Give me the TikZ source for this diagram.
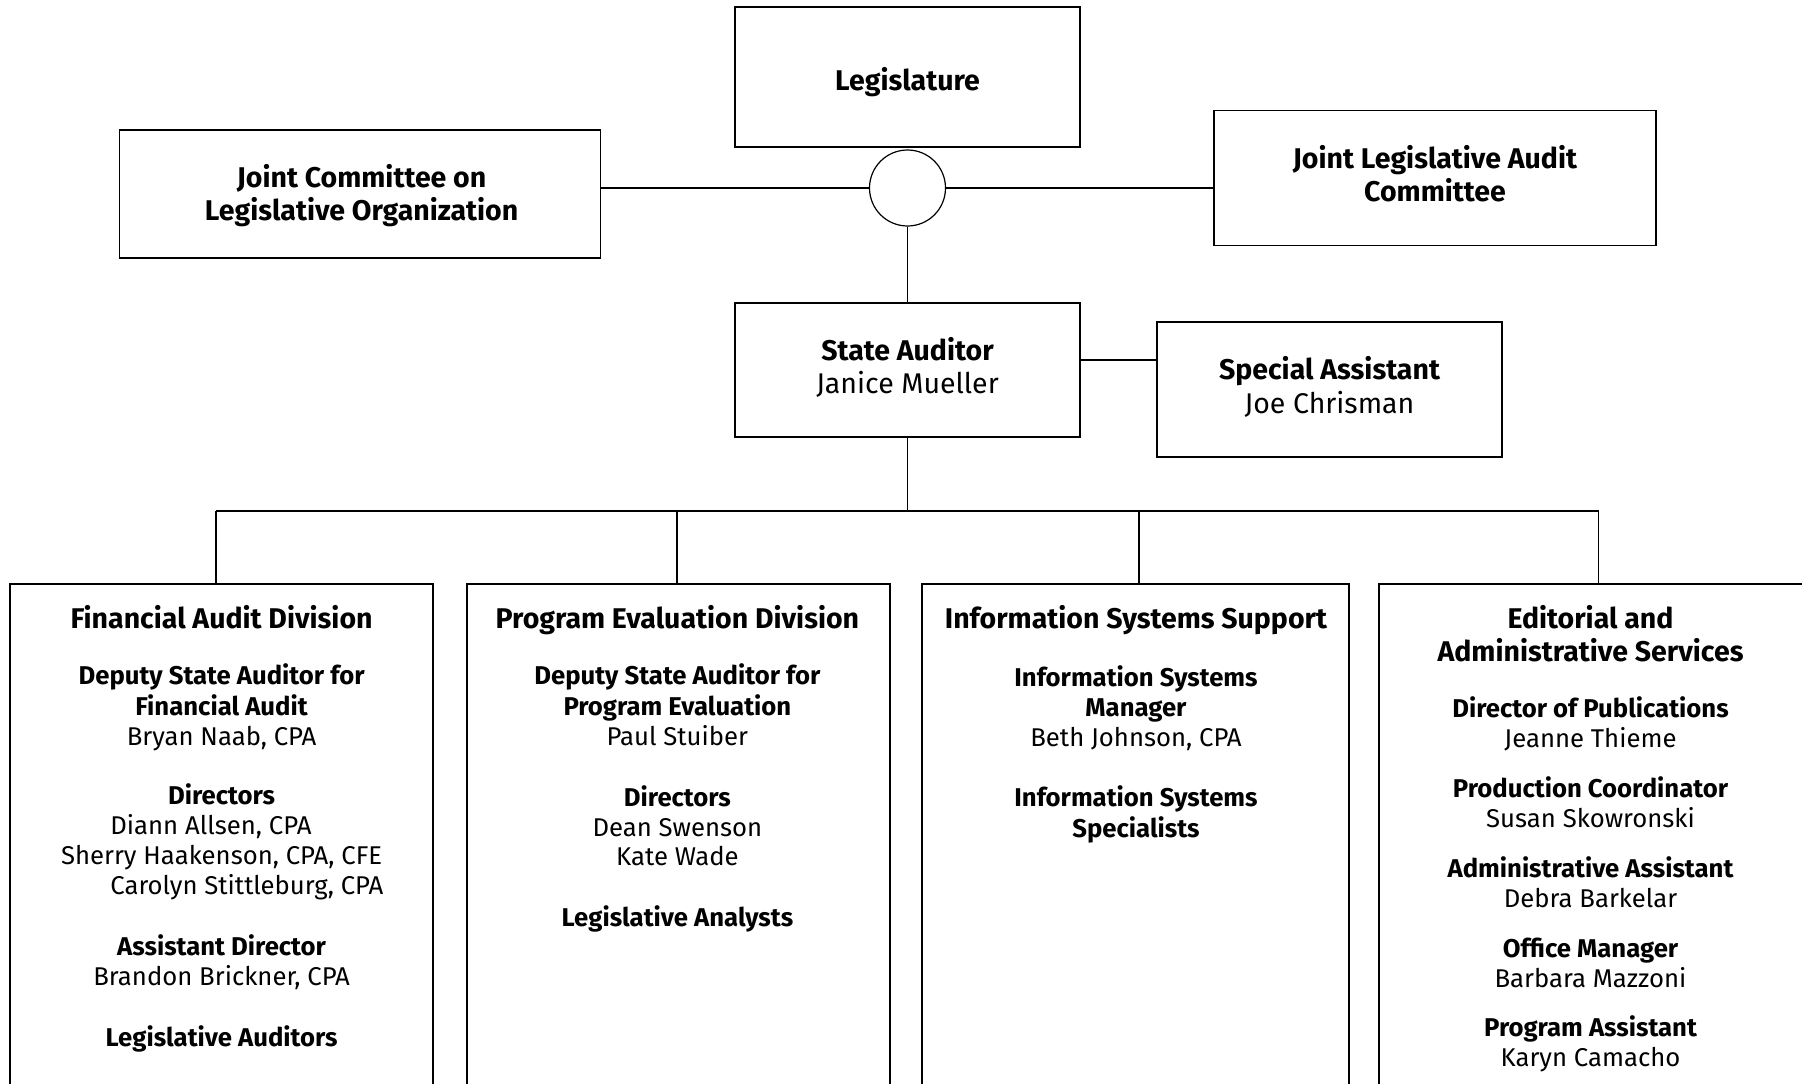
\documentclass[tikz,border=0pt]{standalone}
\usepackage{fontspec}
\setmainfont{Fira Sans}
\begin{document}
\begin{tikzpicture}[x=1pt,y=-1pt,
  box/.style={draw, line width=1.6pt, rectangle, inner sep=0pt},
  conn/.style={line width=1.2pt},
  txt/.style={anchor=base, inner sep=0pt, font=\fontsize{25.7}{30}\selectfont},
  big/.style={anchor=base, inner sep=0pt, font=\fontsize{28.5}{33}\selectfont},
  bigb/.style={big, font=\fontsize{28.5}{33}\selectfont\bfseries},
]
\useasboundingbox (0,0) rectangle (1802,1084);
% top level
\node[box, minimum width=345, minimum height=140] (leg) at (907.5,77) {};
\node[box, circle, line width=1.2pt, minimum size=76] (hub) at (907.5,188) {};
\node[box, minimum width=481, minimum height=128] (jclo) at (360,194) {};
\node[box, minimum width=442, minimum height=135] (jlac) at (1435,178) {};
\node[box, minimum width=345, minimum height=134] (sa) at (907.5,370) {};
\node[box, minimum width=345, minimum height=135] (spa) at (1329.5,389.5) {};
% divisions
\node[box, minimum width=423, minimum height=516] (d1) at (221.5,842) {};
\node[box, minimum width=423, minimum height=516] (d2) at (678.5,842) {};
\node[box, minimum width=427, minimum height=516] (d3) at (1135.5,842) {};
\node[box, minimum width=427, minimum height=516] (d4) at (1592.5,842) {};
% connectors
\draw[conn] (hub.west) -- (hub.west -| jclo.east);
\draw[conn] (hub.east) -- (hub.east -| jlac.west);
\draw[conn] (hub.south) -- (sa.north);
\draw[conn] ([yshift=10pt]sa.east) -- ([yshift=10pt]sa.east -| spa.west);
\coordinate (bus) at (907.5,511);
\coordinate (b1) at (216,511);
\coordinate (b2) at (677,511);
\coordinate (b3) at (1139,511);
\coordinate (b4) at (1598.5,511);
\draw[conn] (sa.south) -- (bus);
\draw[conn] (b1) -- (b4);
\draw[conn] (b1) -- (b1 |- d1.north);
\draw[conn] (b2) -- (b2 |- d2.north);
\draw[conn] (b3) -- (b3 |- d3.north);
\draw[conn] (b4) -- (b4 |- d4.north);
% top texts
\node[bigb] (tleg) at (907.5,90) {Legislature};
\node[bigb] (tj1) at (361.6,187) {Joint Committee on};
\node[bigb] (tj2) at (361.6,220) {Legislative Organization};
\node[bigb] (tl1) at (1435,168) {Joint Legislative Audit};
\node[bigb] (tl2) at (1435,201) {Committee};
\node[bigb] (ts1) at (907.5,360) {State Auditor};
\node[big] (ts2) at (907.5,393) {Janice Mueller};
\node[bigb] (tp1) at (1329.5,379) {Special Assistant};
\node[big] (tp2) at (1329.5,413) {Joe Chrisman};
% division headers
\node[bigb] (h1) at (221.6,628) {Financial Audit Division};
\node[bigb] (h2) at (677.4,628) {Program Evaluation Division};
\node[bigb] (h3) at (1136,628) {Information Systems Support};
\node[bigb] (h4a) at (1590.5,628) {Editorial and};
\node[bigb] (h4b) at (1590.5,661) {Administrative Services};
% division 1
\foreach \y/\t [count=\i] in {
  684/{\bfseries Deputy State Auditor for}, 715/{\bfseries Financial Audit},
  745/{Bryan Naab, CPA}, 804/{\bfseries Directors},
  864/{Sherry Haakenson, CPA, CFE},
  955/{\bfseries Assistant Director}, 985/{Brandon Brickner, CPA},
  1046/{\bfseries Legislative Auditors}}
  \node[txt] (a\i) at (221.6,\y) {\t};
\node[txt, anchor=base west] (a10) at (110.2,834) {Diann Allsen, CPA};
\node[txt, anchor=base west] (a11) at (110.2,894) {Carolyn Stittleburg, CPA};
% division 2
\foreach \y/\t [count=\i] in {
  684/{\bfseries Deputy State Auditor for}, 715/{\bfseries Program Evaluation},
  745/{Paul Stuiber}, 806/{\bfseries Directors}, 836/{Dean Swenson},
  865/{Kate Wade}, 926/{\bfseries Legislative Analysts}}
  \node[txt] (p\i) at (677.4,\y) {\t};
% division 3
\foreach \y/\t [count=\i] in {
  686/{\bfseries Information Systems}, 716/{\bfseries Manager},
  746/{Beth Johnson, CPA}, 806/{\bfseries Information Systems},
  837/{\bfseries Specialists}}
  \node[txt] (s\i) at (1136,\y) {\t};
% division 4
\foreach \y/\t [count=\i] in {
  717/{\bfseries Director of Publications}, 747/{Jeanne Thieme},
  797/{\bfseries Production Coordinator}, 827/{Susan Skowronski},
  877/{\bfseries Administrative Assistant}, 907/{Debra Barkelar},
  957/{\bfseries Office Manager}, 987/{Barbara Mazzoni},
  1036/{\bfseries Program Assistant}, 1066/{Karyn Camacho}}
  \node[txt] (e\i) at (1590.5,\y) {\t};
\end{tikzpicture}
\end{document}
